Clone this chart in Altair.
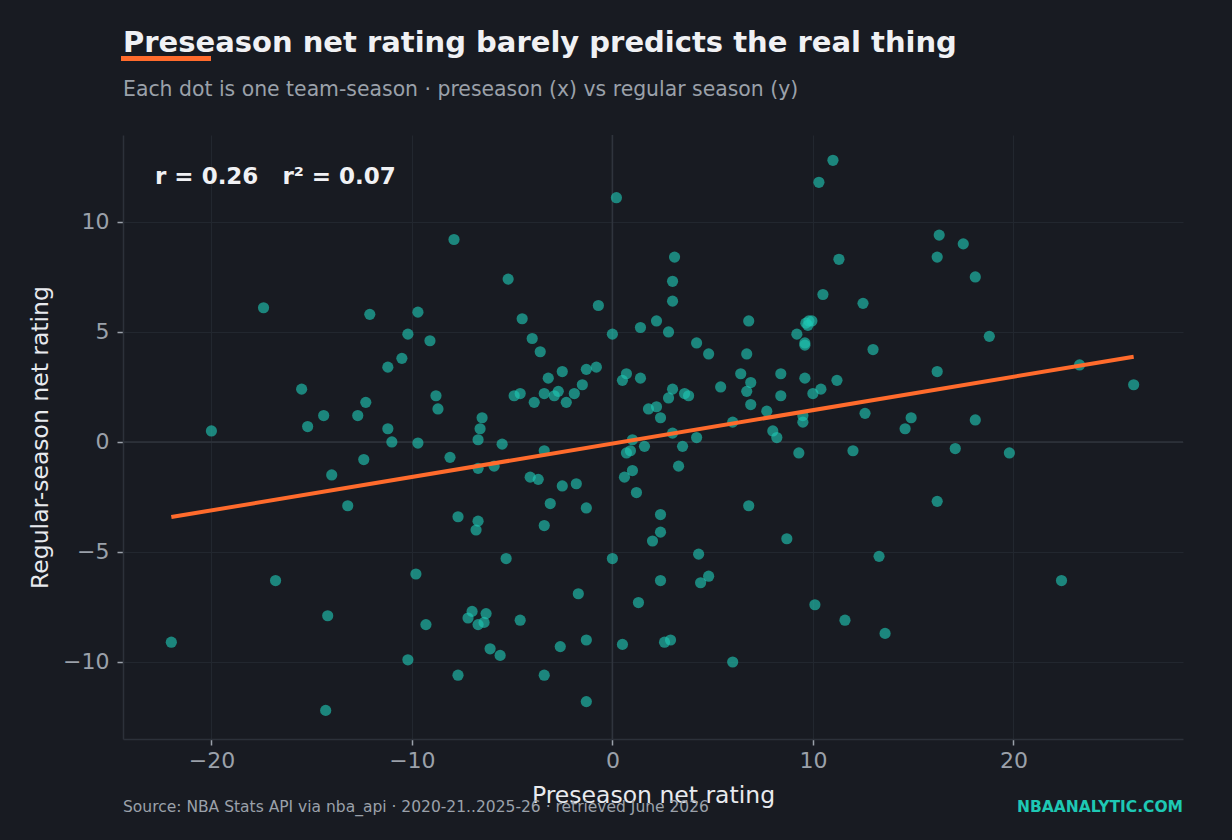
import altair as alt
import pandas as pd

# Preseason net rating (x) and regular-season net rating (y), one per team-season
pre = [
    -22.0, -20.0, -17.4, -16.8, -15.5, -15.2, -14.4, -14.2, -14.3, -14.0,
    -13.2, -12.7, -12.3, -12.4, -12.1, -11.2, -11.2, -11.0, -10.5, -10.2,
    -10.2, -9.8, -9.7, -9.7, -9.3, -9.1, -8.8, -8.7, -8.1, -7.9,
    -7.7, -7.7, -7.2, -7.0, -6.8, -6.7, -6.7, -6.7, -6.7, -6.6,
    -6.5, -6.4, -6.3, -6.1, -5.9, -5.6, -5.5, -5.3, -5.2, -4.9,
    -4.6, -4.6, -4.5, -4.1, -4.0, -3.9, -3.7, -3.6, -3.4, -3.4,
    -3.4, -3.4, -3.2, -3.1, -2.9, -2.7, -2.6, -2.5, -2.5, -2.3,
    -1.9, -1.8, -1.7, -1.5, -1.3, -1.3, -1.3, -1.3, -0.8, -0.7,
    0.0, 0.0, 0.2, 0.5, 0.5, 0.6, 0.7, 0.7, 0.9, 1.0,
    1.0, 1.2, 1.3, 1.4, 1.4, 1.6, 1.8, 2.0, 2.2, 2.2,
    2.4, 2.4, 2.4, 2.4, 2.6, 2.8, 2.8, 2.9, 3.0, 3.0,
    3.0, 3.0, 3.1, 3.3, 3.5, 3.6, 3.8, 4.2, 4.2, 4.3,
    4.4, 4.8, 4.8, 5.4, 6.0, 6.0, 6.4, 6.7, 6.7, 6.8,
    6.8, 6.9, 6.9, 7.7, 8.0, 8.2, 8.4, 8.4, 8.7, 9.2,
    9.3, 9.5, 9.5, 9.6, 9.6, 9.6, 9.65, 9.8, 9.75, 9.95,
    10.0, 10.1, 10.3, 10.4, 10.5, 11.0, 11.2, 11.3, 11.6, 12.0,
    12.5, 12.6, 13.0, 13.3, 13.6, 14.6, 14.9, 16.2, 16.2, 16.2,
    16.3, 17.1, 17.5, 18.1, 18.1, 18.8, 19.8, 22.4, 23.3, 26.0,
]
reg = [
    -9.1, 0.5, 6.1, -6.3, 2.4, 0.7, 1.2, -7.9, -12.2, -1.5,
    -2.9, 1.2, 1.8, -0.8, 5.8, 3.4, 0.6, 0.0, 3.8, 4.9,
    -9.9, -6.0, 5.9, -0.05, -8.3, 4.6, 2.1, 1.5, -0.7, 9.2,
    -3.4, -10.6, -8.0, -7.7, -4.0, -3.6, -8.3, -1.2, 0.1, 0.6,
    1.1, -8.2, -7.8, -9.4, -1.1, -9.7, -0.1, -5.3, 7.4, 2.1,
    2.2, -8.1, 5.6, -1.6, 4.7, 1.8, -1.7, 4.1, -0.4, -3.8,
    -10.6, 2.2, 2.9, -2.8, 2.1, 2.3, -9.3, 3.2, -2.0, 1.8,
    2.2, -1.9, -6.9, 2.6, -3.0, -9.0, -11.8, 3.3, 3.4, 6.2,
    4.9, -5.3, 11.1, 2.8, -9.2, -1.6, 3.1, -0.5, -0.4, -1.3,
    0.1, -2.3, -7.3, 5.2, 2.9, -0.2, 1.5, -4.5, 5.5, 1.6,
    1.1, -3.3, -4.1, -6.3, -9.1, 2.0, 5.0, -9.0, 2.4, 6.4,
    7.3, 0.4, 8.4, -1.1, -0.2, 2.2, 2.1, 0.2, 4.5, -5.1,
    -6.4, 4.0, -6.1, 2.5, 0.9, -10.0, 3.1, 4.0, 2.3, 5.5,
    -2.9, 2.7, 1.7, 1.4, 0.5, 0.2, 3.1, 2.1, -4.4, 4.9,
    -0.5, 1.2, 0.9, 2.9, 4.5, 4.4, 5.4, 5.5, 5.3, 5.5,
    2.2, -7.4, 11.8, 2.4, 6.7, 12.8, 2.8, 8.3, -8.1, -0.4,
    6.3, 1.3, 4.2, -5.2, -8.7, 0.6, 1.1, 8.4, 3.2, -2.7,
    9.4, -0.3, 9.0, 7.5, 1.0, 4.8, -0.5, -6.3, 3.5, 2.6,
]
x_ticks = [-20, -10, 0, 10, 20]
y_ticks = [-10, -5, 0, 5, 10]
zero = [0]

title_text = "Preseason net rating barely predicts the real thing"
subtitle_text = "Each dot is one team-season \u00b7 preseason (x) vs regular season (y)"
stat_text = "r = 0.26\u00a0\u00a0\u00a0r\u00b2 = 0.07"
source_text = "Source: NBA Stats API via nba_api \u00b7 2020-21..2025-26 \u00b7 retrieved June 2026"
brand_text = "NBAANALYTIC.COM"

df = pd.DataFrame({"pre": pre, "reg": reg})
zdf = pd.DataFrame({"v": zero})
one = pd.DataFrame({"k": [0]})

FONT = "DejaVu Sans"
BG = "#181b22"
W, H = 1060, 604

xs = alt.Scale(domain=[-24.41, 28.46], nice=False, zero=False)
ys = alt.Scale(domain=[-13.5, 13.95], nice=False, zero=False)

xax = alt.Axis(values=x_ticks, title="Preseason net rating", grid=True)
yax = alt.Axis(values=y_ticks, title="Regular-season net rating", grid=True)

zero_x = alt.Chart(zdf).mark_rule(color="#2f343d", strokeWidth=1.6).encode(
    x=alt.X("v:Q", scale=xs, axis=xax)
)
zero_y = alt.Chart(zdf).mark_rule(color="#2f343d", strokeWidth=1.6).encode(
    y=alt.Y("v:Q", scale=ys, axis=yax)
)

points = alt.Chart(df).mark_circle(size=125, color="#1ec8b4", opacity=0.62).encode(
    x=alt.X("pre:Q", scale=xs, axis=xax),
    y=alt.Y("reg:Q", scale=ys, axis=yax),
)

fit = alt.Chart(df).transform_regression("pre", "reg").mark_line(
    color="#ff6b2c", strokeWidth=4
).encode(
    x=alt.X("pre:Q", scale=xs, axis=xax),
    y=alt.Y("reg:Q", scale=ys, axis=yax),
)

def txt(text, x, y, size, color, weight="normal", align="left"):
    return alt.Chart(one).mark_text(
        text=text, font=FONT, fontSize=size, color=color, fontWeight=weight,
        align=align, baseline="alphabetic"
    ).encode(x=alt.value(x), y=alt.value(y))

title = txt(title_text, 0, -83, 29, "#f0f1f4", "bold")
subtitle = txt(subtitle_text, 0, -39, 20.4, "#9ba1aa")
stat = txt(stat_text, 32, 49, 23, "#f0f1f4", "bold")
source = txt(source_text, 0, 677, 15.5, "#9ba1aa")
brand = txt(brand_text, W, 677, 15.5, "#1ec8b4", "bold", "right")

bar = alt.Chart(one).mark_rule(color="#ff6b2c", strokeWidth=5).encode(
    x=alt.value(-2), x2=alt.value(88), y=alt.value(-76.5)
)

chart = alt.layer(
    zero_x, zero_y, points, fit, title, subtitle, stat, source, brand, bar
).properties(
    width=W, height=H,
    background=BG,
    padding={"left": 123, "top": 135, "right": 49, "bottom": 101},
    autosize=alt.AutoSizeParams(type="none"),
).configure_view(
    stroke=None, fill=BG
).configure_axis(
    labelFont=FONT, titleFont=FONT,
    labelFontSize=22, titleFontSize=23.5,
    labelColor="#9ba1aa", titleColor="#e8eaee",
    titleFontWeight="normal",
    domainColor="#2c313a", domainWidth=1.5,
    gridColor="#22272f", gridWidth=1,
    tickColor="#9ba1aa", tickSize=6, tickWidth=1.5,
).configure_axisX(
    titlePadding=12, labelPadding=5
).configure_axisY(
    titlePadding=10, labelPadding=8
)

chart.save("out.html", embed_options={"renderer": "svg", "actions": False})
